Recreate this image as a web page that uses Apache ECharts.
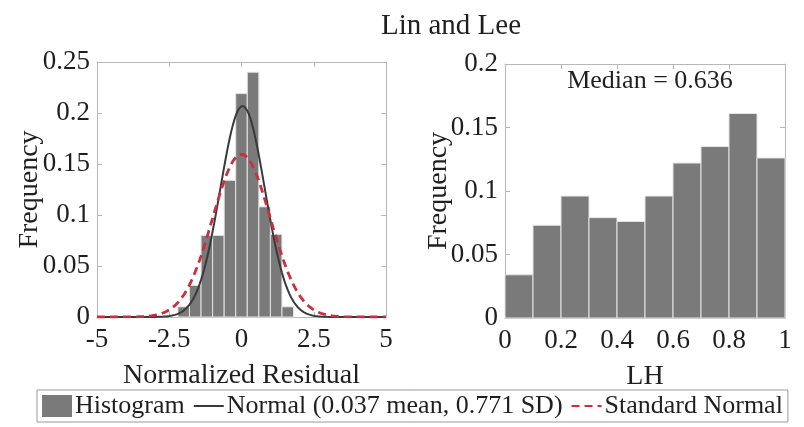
<!DOCTYPE html>
<html>
<head>
<meta charset="utf-8">
<script src="https://cdn.jsdelivr.net/npm/echarts@6/dist/echarts.min.js"></script>
<style>
  html, body { margin: 0; padding: 0; background: #fff; }
  #chart { width: 804px; height: 427px; }
</style>
</head>
<body>
<div id="chart"></div>
<script>
// Normalized residual histogram: bin edges and relative frequencies
const residualEdges = [-2.2, -1.8, -1.4, -1.0, -0.6, -0.2, 0.2, 0.6, 1.0, 1.4, 1.8];
const residualFreq  = [0.010, 0.031, 0.080, 0.080, 0.134, 0.219, 0.240, 0.108, 0.081, 0.010];

// Fitted normal parameters (stated in the legend)
const fitMean = 0.037;
const fitSD = 0.771;

// LH histogram: bin edges and relative frequencies
const lhEdges = [0, 0.1, 0.2, 0.3, 0.4, 0.5, 0.6, 0.7, 0.8, 0.9, 1.0];
const lhFreq  = [0.034, 0.073, 0.096, 0.079, 0.076, 0.096, 0.122, 0.135, 0.161, 0.126];
const lhMedian = 0.636;

// Tick values
const residualTicks = [-5, -2.5, 0, 2.5, 5];
const residualFreqTicks = [0, 0.05, 0.1, 0.15, 0.2, 0.25];
const lhTicks = [0, 0.2, 0.4, 0.6, 0.8, 1];
const lhFreqTicks = [0, 0.05, 0.1, 0.15, 0.2];

const titleText = 'Lin and Lee';
const histName = 'Histogram';
const fitName = 'Normal (' + fitMean.toFixed(3) + ' mean, ' + fitSD.toFixed(3) + ' SD)';
const stdName = 'Standard Normal';

// Build histogram rows [left edge, right edge, frequency]
function binRows(edges, freq) {
  return freq.map((f, i) => [edges[i], edges[i + 1], f]);
}

// Normal density scaled by bin width so it sits on the frequency axis
const binWidth = residualEdges[1] - residualEdges[0];
function normalCurve(mu, sd) {
  const pts = [];
  for (let i = 0; i <= 200; i++) {
    const x = -5 + i * 0.05;
    const z = (x - mu) / sd;
    pts.push([x, binWidth * Math.exp(-0.5 * z * z) / (sd * Math.sqrt(2 * Math.PI))]);
  }
  return pts;
}

const FONT = 'Liberation Serif';
const TXT = '#1f1f1f';
const FRAME = '#b8b8b8';
const BAR = '#7a7a7a';
const FIT_COLOR = '#3a3a3a';
const STD_COLOR = '#c8303f';

function histItem(params, api) {
  const p0 = api.coord([api.value(0), api.value(2)]);
  const p1 = api.coord([api.value(1), 0]);
  return {
    type: 'rect',
    shape: { x: p0[0], y: p0[1], width: p1[0] - p0[0], height: p1[1] - p0[1] },
    style: { fill: BAR, stroke: '#e4e4e4', lineWidth: 1 }
  };
}

function fmt(v) { return String(+v.toFixed(3)); }

function xAxes(gridIndex, min, max, interval, name, nameGap) {
  return [
    {
      gridIndex, type: 'value', min, max, interval, position: 'bottom',
      name, nameLocation: 'middle', nameGap, nameMoveOverlap: false,
      nameTextStyle: { fontFamily: FONT, fontSize: 28, color: TXT },
      axisLine: { show: true, onZero: false, lineStyle: { color: FRAME, width: 1 } },
      axisTick: { show: true, inside: true, length: 5, lineStyle: { color: FRAME } },
      axisLabel: { fontFamily: FONT, fontSize: 27, color: TXT, margin: 9, formatter: fmt },
      splitLine: { show: false }
    },
    {
      gridIndex, type: 'value', min, max, interval, position: 'top',
      axisLine: { show: true, onZero: false, lineStyle: { color: FRAME, width: 1 } },
      axisTick: { show: true, inside: true, length: 5, lineStyle: { color: FRAME } },
      axisLabel: { show: false },
      splitLine: { show: false }
    }
  ];
}

function yAxes(gridIndex, min, max, interval, nameGap) {
  return [
    {
      gridIndex, type: 'value', min, max, interval, position: 'left',
      name: 'Frequency', nameLocation: 'middle', nameGap, nameMoveOverlap: false,
      nameTextStyle: { fontFamily: FONT, fontSize: 28, color: TXT },
      axisLine: { show: true, onZero: false, lineStyle: { color: FRAME, width: 1 } },
      axisTick: { show: true, inside: true, length: 5, lineStyle: { color: FRAME } },
      axisLabel: { fontFamily: FONT, fontSize: 27, color: TXT, margin: 7, formatter: fmt },
      splitLine: { show: false }
    },
    {
      gridIndex, type: 'value', min, max, interval, position: 'right',
      axisLine: { show: true, onZero: false, lineStyle: { color: FRAME, width: 1 } },
      axisTick: { show: true, inside: true, length: 5, lineStyle: { color: FRAME } },
      axisLabel: { show: false },
      splitLine: { show: false }
    }
  ];
}

// Line legend entries show only the stroke, no marker
const lineOnly = { color: 'rgba(0,0,0,0)', borderColor: 'rgba(0,0,0,0)', borderWidth: 0 };

const chart = echarts.init(document.getElementById('chart'), null, { renderer: 'canvas' });

chart.setOption({
  backgroundColor: '#ffffff',
  animation: false,
  title: [
    {
      text: titleText, left: 446, top: 7, textAlign: 'center',
      textStyle: { fontFamily: FONT, fontSize: 29, fontWeight: 'normal', color: TXT }
    },
    {
      text: 'Median = ' + lhMedian.toFixed(3), left: 645, top: 63, textAlign: 'center',
      textStyle: { fontFamily: FONT, fontSize: 26, fontWeight: 'normal', color: TXT }
    }
  ],
  grid: [
    { left: 97, right: 418, top: 62, bottom: 110 },
    { left: 505, right: 19, top: 64, bottom: 109 }
  ],
  xAxis: [
    ...xAxes(0, residualTicks[0], residualTicks[residualTicks.length - 1], residualTicks[1] - residualTicks[0], 'Normalized Residual', 45),
    ...xAxes(1, lhTicks[0], lhTicks[lhTicks.length - 1], lhTicks[1] - lhTicks[0], 'LH', 45)
  ],
  yAxis: [
    ...yAxes(0, residualFreqTicks[0], residualFreqTicks[residualFreqTicks.length - 1], residualFreqTicks[1] - residualFreqTicks[0], 53),
    ...yAxes(1, lhFreqTicks[0], lhFreqTicks[lhFreqTicks.length - 1], lhFreqTicks[1] - lhFreqTicks[0], 52)
  ],
  legend: {
    left: 37, top: 390,
    data: [
      { name: histName, icon: 'rect' },
      { name: fitName, itemStyle: lineOnly },
      { name: stdName, itemStyle: lineOnly }
    ],
    itemWidth: 30, itemHeight: 22, itemGap: 8,
    padding: [3, 5],
    borderColor: '#9a9a9a', borderWidth: 1, backgroundColor: '#fff',
    textStyle: { fontFamily: FONT, fontSize: 26, color: TXT, padding: [0, 0, 0, -2] },
    selectedMode: false
  },
  series: [
    {
      name: histName, type: 'custom', xAxisIndex: 0, yAxisIndex: 0,
      renderItem: histItem, encode: { x: [0, 1], y: 2 },
      itemStyle: { color: BAR },
      data: binRows(residualEdges, residualFreq), z: 1
    },
    {
      name: fitName, type: 'line', xAxisIndex: 0, yAxisIndex: 0,
      showSymbol: false, symbol: 'none', smooth: false,
      lineStyle: { color: FIT_COLOR, width: 2 },
      itemStyle: { color: FIT_COLOR },
      data: normalCurve(fitMean, fitSD), z: 3
    },
    {
      name: stdName, type: 'line', xAxisIndex: 0, yAxisIndex: 0,
      showSymbol: false, symbol: 'none', smooth: false,
      lineStyle: { color: STD_COLOR, width: 2.8, type: [8, 5] },
      itemStyle: { color: STD_COLOR },
      data: normalCurve(0, 1), z: 4
    },
    {
      name: 'LH', type: 'custom', xAxisIndex: 2, yAxisIndex: 2,
      renderItem: histItem, encode: { x: [0, 1], y: 2 },
      itemStyle: { color: BAR },
      data: binRows(lhEdges, lhFreq), z: 1
    }
  ]
});
</script>
</body>
</html>
